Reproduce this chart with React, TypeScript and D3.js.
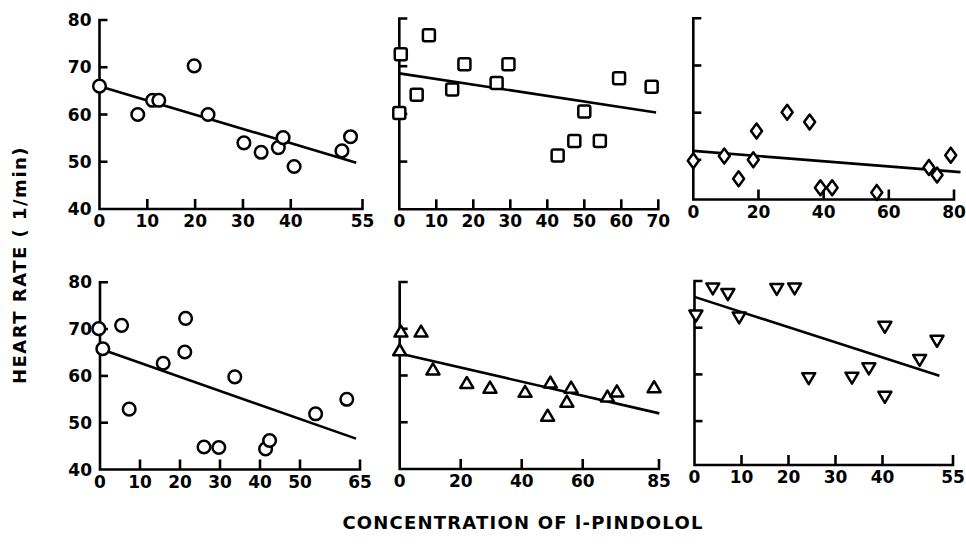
import React from "react";
import * as d3 from "d3";

// values, one set per panel
const p1X = [0, 8, 11.1, 12.4, 19.8, 22.7, 30.2, 33.8, 37.4, 38.4, 40.7, 50.7, 52.5];
const p1Y = [66, 60, 63, 63, 70.3, 60, 54, 52, 53, 55.1, 49, 52.3, 55.3];
const p2X = [0.4, 0, 8, 4.7, 14.3, 17.6, 26.3, 29.5, 42.8, 47.3, 50, 54.2, 59.4, 68.2];
const p2Y = [72.5, 60.2, 76.5, 64, 65.1, 70.4, 66.5, 70.4, 51.3, 54.3, 60.5, 54.3, 67.5, 65.7];
const p3X = [0, 9.5, 13.9, 18.4, 19.4, 28.8, 35.7, 39, 42.6, 56.3, 72.3, 74.8, 79];
const p3Y = [49.8, 50.8, 46, 50, 56.1, 60.1, 58, 44.1, 44.1, 43.1, 48.4, 46.8, 51];
const p4X = [-0.3, 0.7, 5.4, 7.3, 15.8, 21.2, 21.4, 26, 29.7, 33.7, 41.4, 42.4, 53.9, 61.7];
const p4Y = [70.1, 65.8, 70.8, 52.9, 62.7, 65.1, 72.3, 44.8, 44.7, 59.8, 44.4, 46.2, 51.9, 55];
const p5X = [0.4, 0, 7, 10.9, 22, 29.6, 41.1, 48.5, 49.4, 54.8, 56.2, 68.1, 71.2, 83.4];
const p5Y = [69.4, 65.4, 69.4, 61.3, 58.4, 57.4, 56.5, 51.4, 58.5, 54.4, 57.4, 55.5, 56.6, 57.5];
const p6X = [0.3, 3.9, 7.1, 9.5, 17.5, 21.3, 24.3, 33.5, 37.1, 40.5, 40.5, 47.9, 51.6];
const p6Y = [72.6, 78.4, 77.2, 72.2, 78.3, 78.4, 59.2, 59.3, 61.3, 70.2, 55.2, 63.1, 67.2];

// regression lines: [x0, y0, x1, y1]
const fits = [
  [0, 66, 53.7, 49.8],
  [0, 68.5, 69.4, 60.3],
  [0, 51.9, 82, 47.4],
  [0, 65.8, 64, 46.6],
  [0, 64.7, 85.1, 51.9],
  [0, 76.6, 52.1, 59.7],
];

const xTicks = [
  [0, 10, 20, 30, 40, 55],
  [0, 10, 20, 30, 40, 50, 60, 70],
  [0, 20, 40, 60, 80],
  [0, 10, 20, 30, 40, 50, 65],
  [0, 20, 40, 60, 85],
  [0, 10, 20, 30, 40, 55],
];
const yTicks = [40, 50, 60, 70, 80];

const panels = [
  { xs: p1X, ys: p1Y, xMax: 55, px: [99.5, 362.5], yMin: 40, py: [209, 20], shape: "circle", labels: true },
  { xs: p2X, ys: p2Y, xMax: 70, px: [399.3, 658.3], yMin: 40, py: [209.3, 18.5], shape: "square", labels: false },
  { xs: p3X, ys: p3Y, xMax: 80, px: [693.3, 954], yMin: 41.6, py: [199.5, 18.3], shape: "diamond", labels: false },
  { xs: p4X, ys: p4Y, xMax: 65, px: [100, 360], yMin: 40, py: [469.5, 282.3], shape: "circle", labels: true },
  { xs: p5X, ys: p5Y, xMax: 85, px: [399.7, 659], yMin: 40, py: [469, 282], shape: "up", labels: false },
  { xs: p6X, ys: p6Y, xMax: 55, px: [694.5, 953], yMin: 40.6, py: [465, 281], shape: "down", labels: false },
];

const font = "'DejaVu Sans', sans-serif";

function Marker({ shape, x, y }: { shape: string; x: number; y: number }) {
  const common = { fill: "#fff", stroke: "#000", strokeWidth: 2.5 };
  if (shape === "circle") return <circle cx={x} cy={y} r={6.3} {...common} />;
  if (shape === "square")
    return <rect x={x - 6} y={y - 6} width={12} height={12} rx={2} {...common} />;
  if (shape === "diamond")
    return <path d={`M${x},${y - 7.5}L${x + 5.5},${y}L${x},${y + 7.5}L${x - 5.5},${y}Z`} {...common} strokeLinejoin="round" />;
  if (shape === "up")
    return <path d={`M${x},${y - 6}L${x + 6.5},${y + 5}L${x - 6.5},${y + 5}Z`} {...common} strokeLinejoin="round" />;
  return <path d={`M${x},${y + 6}L${x + 6.5},${y - 5}L${x - 6.5},${y - 5}Z`} {...common} strokeLinejoin="round" />;
}

function Panel({ p, i }: { p: (typeof panels)[number]; i: number }) {
  const x = d3.scaleLinear().domain([0, p.xMax]).range(p.px);
  const y = d3.scaleLinear().domain([p.yMin, 80]).range(p.py);
  const x0 = x(0);
  const yb = y(p.yMin);
  const fit = fits[i];
  const sw = 2.6;
  return (
    <g>
      {/* axes */}
      <path
        d={`M${x0 + 8},${y(80)}H${x0}V${yb}H${x(p.xMax)}V${yb - 10}`}
        fill="none"
        stroke="#000"
        strokeWidth={sw}
      />
      {yTicks
        .filter((t) => t > p.yMin + 2 && t < 80)
        .map((t) => (
          <line key={t} x1={x0} x2={x0 + 8} y1={y(t)} y2={y(t)} stroke="#000" strokeWidth={sw} />
        ))}
      {xTicks[i]
        .filter((t) => t > 0 && t < p.xMax)
        .map((t) => (
          <line key={t} x1={x(t)} x2={x(t)} y1={yb} y2={yb - 10} stroke="#000" strokeWidth={sw} />
        ))}
      {xTicks[i].map((t) => (
        <text key={t} x={x(t)} y={yb + 18} textAnchor="middle" fontSize={17} fontWeight="bold" fontFamily={font}>
          {t}
        </text>
      ))}
      {p.labels &&
        yTicks.map((t) => (
          <text
            key={t}
            x={x0 - 8}
            y={y(t)}
            dy="0.36em"
            textAnchor="end"
            fontSize={17}
            fontWeight="bold"
            fontFamily={font}
          >
            {t}
          </text>
        ))}
      {/* fitted line */}
      <line x1={x(fit[0])} y1={y(fit[1])} x2={x(fit[2])} y2={y(fit[3])} stroke="#000" strokeWidth={2.6} />
      {p.xs.map((v, k) => (
        <Marker key={k} shape={p.shape} x={x(v)} y={y(p.ys[k])} />
      ))}
    </g>
  );
}

export default function App() {
  return (
    <svg width={966} height={544} style={{ position: "absolute", left: 0, top: 0, background: "#fff" }}>
      {panels.map((p, i) => (
        <Panel key={i} p={p} i={i} />
      ))}
      <text
        transform="translate(26,265) rotate(-90)"
        textAnchor="middle"
        fontSize={18}
        fontWeight="bold"
        letterSpacing={1.5}
        fontFamily={font}
      >
        HEART RATE ( 1/min)
      </text>
      <text x={523} y={529} textAnchor="middle" fontSize={18} fontWeight="bold" letterSpacing={1.2} fontFamily={font}>
        CONCENTRATION OF l-PINDOLOL
      </text>
    </svg>
  );
}
